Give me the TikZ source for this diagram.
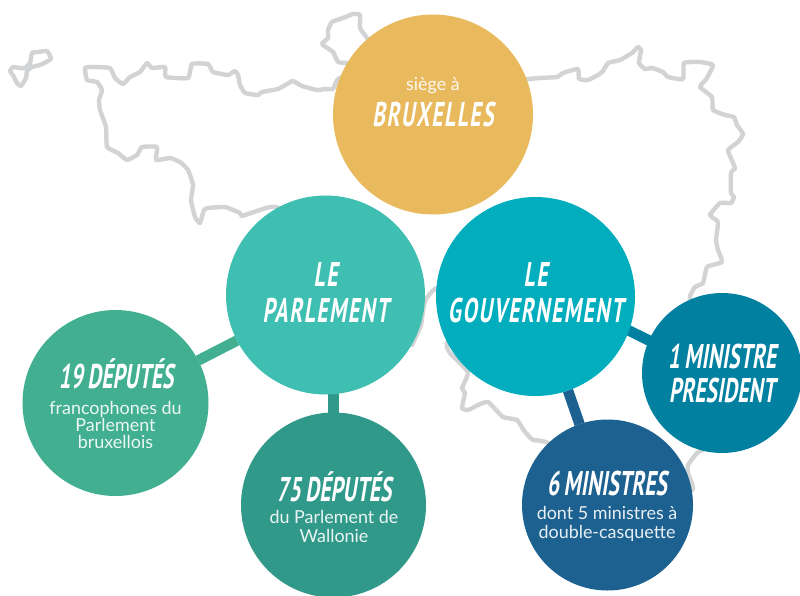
\documentclass[tikz,border=0pt]{standalone}
\usepackage{fontspec}
\setmainfont{Lato}
\newfontfamily\headfont[FakeStretch=0.62,FakeSlant=0.16,WordSpace=0.8,LetterSpace=5]{PT Sans Bold}
\newfontfamily\subfont[FakeStretch=0.62,FakeSlant=0.16,WordSpace=0.8,LetterSpace=0.6]{PT Sans Bold}
\usetikzlibrary{backgrounds}
\definecolor{cbrux}{HTML}{E8B95D}
\definecolor{cparl}{HTML}{3FBFB2}
\definecolor{cgouv}{HTML}{02ADBD}
\definecolor{cdepa}{HTML}{42AF91}
\definecolor{cdepb}{HTML}{31998A}
\definecolor{cmina}{HTML}{0180A0}
\definecolor{cminb}{HTML}{1C6190}
\definecolor{cmap}{HTML}{D1D3D4}
\tikzset{
  disc/.style={circle,inner sep=0pt,outer sep=0pt,minimum size=#1*0.02cm},
  head/.style={text=white,align=center,inner sep=0pt,font=\headfont\fontsize{19.5}{20.5}\selectfont},
  subhead/.style={text=white,align=center,inner sep=0pt,font=\subfont\fontsize{19.5}{19}\selectfont},
  body/.style={text=white,text opacity=0.9,align=center,inner sep=0pt,font=\fontsize{10.2}{#1}\selectfont},
  link/.style={line width=6pt},
  border/.style={cmap,line width=2.5pt,line join=round,line cap=round}
}
\begin{document}
\begin{tikzpicture}[x=0.02cm,y=-0.02cm]
\useasboundingbox (0,0) rectangle (800,595);
\node [disc=200,fill=cbrux] (brux) at (433,114.5) {};
\node [disc=199,fill=cparl] (parl) at (325.5,295) {};
\node [disc=199,fill=cgouv] (gouv) at (535.5,296.5) {};
\node [disc=186,fill=cdepa] (dep19) at (115.5,403) {};
\node [disc=185,fill=cdepb] (dep75) at (333.5,505) {};
\node [disc=160,fill=cmina] (min1) at (722,373) {};
\node [disc=171,fill=cminb] (min6) at (607.5,505) {};
% map and links go under the discs
\begin{scope}[on background layer]
\draw [border] plot [smooth,tension=0.25] coordinates {(10,71) (13,67) (20,68) (25,68) (30,63) (32,53) (38,52) (47,51) (51,59) (40,65) (32,67) (27,71) (26,78) (21,86) (17,83) (14,77) (10,71)};
\draw [border] plot [smooth,tension=0.25] coordinates {(367,38) (360,28) (360,15) (353,14) (343,18) (332,22) (328,30) (328,38) (322,44) (333,52) (338,62) (348,63)};
\draw [border] plot [smooth,tension=0.25] coordinates {(360,70) (338,79) (333,89) (325,89) (317,90) (302,86) (293,81) (287,84) (278,89) (262,92) (258,95) (245,93) (240,85) (238,75) (235,71) (228,75) (213,72) (208,64) (192,64) (188,78) (166,77) (165,67) (152,68) (147,63) (140,72) (130,77) (123,84) (115,78) (110,68) (92,67) (85,68) (87,80) (97,82) (102,90) (99,100) (100,110) (106,127) (107,147) (118,153) (127,160) (137,155) (142,147) (157,147) (156,160) (170,158) (180,162) (188,170) (193,185) (191,200) (195,217) (200,223) (204,210) (208,208) (225,207) (240,213) (242,216) (260,210) (276,207) (340,230)};
\draw [border] plot [smooth,tension=0.25] coordinates {(510,80) (528,79) (540,78) (557,77) (563,73) (578,69) (579,79) (588,80) (598,75) (603,71) (608,63) (620,60) (632,53) (638,47) (641,50) (639,63) (645,69) (652,68) (663,72) (668,77) (683,79) (684,63) (700,62) (713,65) (707,78) (700,87) (712,97) (713,110) (725,115) (734,117) (737,125) (743,134) (738,142) (728,150) (733,163) (735,168) (731,173) (731,193) (734,197) (731,203) (720,203) (710,215) (718,222) (716,240) (718,250) (722,262) (707,267) (703,283) (695,287) (690,298) (705,330) (710,440) (697,453) (688,465) (688,473) (692,490) (640,490) (548,443) (533,440) (525,432) (517,420) (503,417) (488,402) (478,405) (468,410) (462,408) (465,393) (462,388) (468,372) (450,353) (447,343) (470,300) (437,288) (426,299) (423,310) (421,325) (412,345)};
\draw [link,cdepa] (parl) -- (dep19);
\draw [link,cdepb] (parl.center -| dep75) -- (dep75);
\draw [link,cmina,shorten <=-4pt,shorten >=-4pt] (gouv.-20) -- (min1.156);
\draw [link,cminb] (gouv) -- (min6);
\end{scope}
\node [body=11] (t1) at (433,86) {siège à};
\node [head] (t2) at (433,115) {BRUXELLES};
\node [head] (t3) at (325.5,292.5) {LE\\PARLEMENT};
\node [head] (t4) at (535.5,293) {LE\\GOUVERNEMENT};
\node [subhead] (t5) at (116,374) {19 DÉPUTÉS};
\node [body=9.5] (t6) at (115.5,425) {francophones du\\Parlement\\bruxellois};
\node [subhead] (t7) at (334,487) {75 DÉPUTÉS};
\node [body=11] (t8) at (334,526.5) {du Parlement de\\Wallonie};
\node [subhead] (t9) at (722,373.5) {1 MINISTRE\\PRESIDENT};
\node [subhead] (t10) at (607,483) {6 MINISTRES};
\node [body=11] (t11) at (607,524) {dont 5 ministres à\\double-casquette};
\end{tikzpicture}
\end{document}
